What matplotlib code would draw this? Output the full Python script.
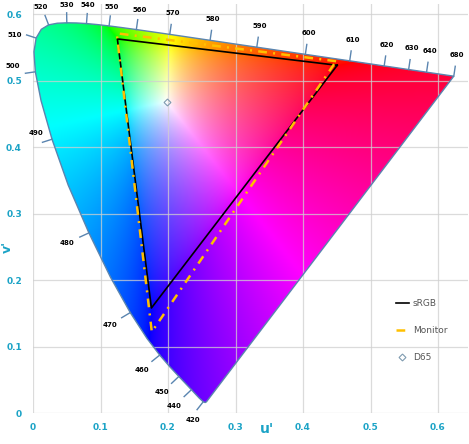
import numpy as np
import matplotlib
matplotlib.use('Agg')
import matplotlib.pyplot as plt
from matplotlib.path import Path
from matplotlib.patches import PathPatch
from matplotlib.lines import Line2D

# CIE 1931 2deg spectral locus (x, y)
wl = [380, 400, 410, 420, 430, 440, 450, 455, 460, 465, 470, 475, 480, 485, 490, 495,
      500, 505, 510, 515, 520, 525, 530, 535, 540, 545, 550, 555, 560, 565, 570, 575,
      580, 585, 590, 595, 600, 605, 610, 620, 630, 640, 650, 680]
loc_x = [0.1741, 0.1733, 0.1726, 0.1714, 0.1689, 0.1644, 0.1566, 0.1510, 0.1440, 0.1355,
         0.1241, 0.1096, 0.0913, 0.0687, 0.0454, 0.0235, 0.0082, 0.0039, 0.0139, 0.0389,
         0.0743, 0.1142, 0.1547, 0.1929, 0.2296, 0.2658, 0.3016, 0.3373, 0.3731, 0.4087,
         0.4441, 0.4788, 0.5125, 0.5448, 0.5752, 0.6029, 0.6270, 0.6482, 0.6658, 0.6915,
         0.7079, 0.7190, 0.7260, 0.7347]
loc_y = [0.0050, 0.0048, 0.0048, 0.0051, 0.0069, 0.0109, 0.0177, 0.0227, 0.0297, 0.0399,
         0.0578, 0.0868, 0.1327, 0.2007, 0.2950, 0.4127, 0.5384, 0.6548, 0.7502, 0.8120,
         0.8338, 0.8262, 0.8059, 0.7816, 0.7543, 0.7243, 0.6923, 0.6589, 0.6245, 0.5896,
         0.5547, 0.5202, 0.4866, 0.4544, 0.4242, 0.3965, 0.3725, 0.3514, 0.3340, 0.3083,
         0.2920, 0.2809, 0.2740, 0.2653]
labeled = [420, 440, 450, 460, 470, 480, 490, 500, 510, 520, 530, 540, 550, 560, 570,
           580, 590, 600, 610, 620, 630, 640, 680]

# gamut triangles in u'v' (R, G, B)
srgb_u = [0.4507, 0.1250, 0.1754]
srgb_v = [0.5229, 0.5625, 0.1579]
mon_u = [0.449, 0.124, 0.176]
mon_v = [0.529, 0.571, 0.122]
d65_u = [0.1978]
d65_v = [0.4683]

xticks = [0, 0.1, 0.2, 0.3, 0.4, 0.5, 0.6]
yticks = [0, 0.1, 0.2, 0.3, 0.4, 0.5, 0.6]

teal = '#1ba3c6'
edge = '#5a85b0'
mon_col = '#ffc000'
mon_ls = (0, (3.5, 2.5, 0.8, 2.5))
# small pixel nudges for a few crowded labels
nudge = {420: (4, 0), 490: (7, 14), 500: (1, 9), 510: (1, -4),
         520: (0, -3), 530: (0, -3), 540: (0, -3), 550: (0, -2), 560: (0, -2)}


def xy2uv(x, y):
    x = np.asarray(x); y = np.asarray(y)
    d = -2 * x + 12 * y + 3
    return 4 * x / d, 9 * y / d


lu, lv = xy2uv(loc_x, loc_y)

fig = plt.figure(figsize=(4.69, 4.44), dpi=100)
ax = fig.add_axes([33 / 469, 31 / 444, 0.645 * 675 / 469, 0.615 * 665 / 444])
ax.set_xlim(0, 0.645)
ax.set_ylim(0, 0.615)
for s in ax.spines.values():
    s.set_visible(False)

# colour fill
N = 700
uu, vv = np.meshgrid(np.linspace(0, 0.645, N), np.linspace(0, 0.615, N))
den = 6 * uu - 16 * vv + 12
cx = 9 * uu / den
cy = np.maximum(4 * vv / den, 1e-4)
X = cx / cy
Z = (1 - cx - cy) / cy
M = np.array([[3.2406, -1.5372, -0.4986],
              [-0.9689, 1.8758, 0.0415],
              [0.0557, -0.2040, 1.0570]])
rgb = np.stack([X, np.ones_like(X), Z], axis=-1) @ M.T
rgb -= np.minimum(rgb.min(axis=-1, keepdims=True), 0)
rgb /= np.maximum(rgb.max(axis=-1, keepdims=True), 1e-6)
rgb = np.clip(rgb, 0, 1) ** (1 / 1.6)

verts = np.column_stack([np.append(lu, lu[0]), np.append(lv, lv[0])])
patch = PathPatch(Path(verts), facecolor='none', edgecolor=edge, lw=1.0, zorder=3)
ax.add_patch(patch)
im = ax.imshow(rgb, origin='lower', extent=(0, 0.645, 0, 0.615), aspect='auto',
               interpolation='bilinear', zorder=1)
im.set_clip_path(patch)

ax.set_xticks(xticks)
ax.set_yticks(yticks)
ax.set_xticklabels(['0' if t == 0 else '%g' % t for t in xticks])
ax.set_yticklabels(['0' if t == 0 else '%g' % t for t in yticks])
ax.tick_params(length=0, labelsize=6.5, labelcolor=teal)
ax.tick_params(axis='x', pad=7)
ax.tick_params(axis='y', pad=8)
for lab in ax.get_xticklabels() + ax.get_yticklabels():
    lab.set_fontweight('bold')
ax.grid(True, color='#d0d0d0', lw=0.9, alpha=0.75, zorder=2)
ax.set_axisbelow(False)

ax.text(0.347, -0.024, "u'", color=teal, fontsize=10, fontweight='bold',
        ha='center', va='center')
ax.text(-0.038, 0.25, "v'", color=teal, fontsize=9, fontweight='bold',
        ha='center', va='center', rotation=90)

# wavelength ticks and labels
P = ax.transData.transform(np.column_stack([lu, lv]))
W = ax.transData.transform((d65_u[0], d65_v[0]))
inv = ax.transData.inverted()
for w in labeled:
    i = wl.index(w)
    t = P[min(i + 1, len(P) - 1)] - P[max(i - 1, 0)]
    n = np.array([-t[1], t[0]]) / np.hypot(*t)
    if np.dot(n, P[i] - W) < 0:
        n = -n
    a = inv.transform(P[i])
    b = inv.transform(P[i] + n * 10)
    ax.plot([a[0], b[0]], [a[1], b[1]], color=edge, lw=1.0, zorder=3, clip_on=False)
    c = inv.transform(P[i] + n * (21 + 3 * abs(n[0])) + np.array(nudge.get(w, (0, 0))))
    ax.text(c[0], c[1], str(w), fontsize=5, fontweight='bold', ha='center',
            va='center', color='black', zorder=4, clip_on=False)

ax.plot(srgb_u + srgb_u[:1], srgb_v + srgb_v[:1], color='black', lw=1.2, zorder=5)
ax.plot(mon_u + mon_u[:1], mon_v + mon_v[:1], color=mon_col, lw=1.8, ls=mon_ls, zorder=6)
ax.plot(d65_u, d65_v, ls='none', marker='D', ms=3.5, mfc='none', mec='#7f9bb0',
        mew=0.8, zorder=7)

handles = [Line2D([], [], color='black', lw=1.2),
           Line2D([], [], color=mon_col, lw=1.8, ls=mon_ls),
           Line2D([], [], ls='none', marker='D', ms=3.5, mfc='none', mec='#7f9bb0', mew=0.8)]
fig.legend(handles, ['sRGB', 'Monitor', 'D65'], loc='upper left',
           bbox_to_anchor=(388 / 469, 1 - 291 / 444), frameon=False, fontsize=6.5,
           labelspacing=2.0, handlelength=1.4, handletextpad=0.45, labelcolor='#555555')

fig.savefig('out.png', dpi=100)
